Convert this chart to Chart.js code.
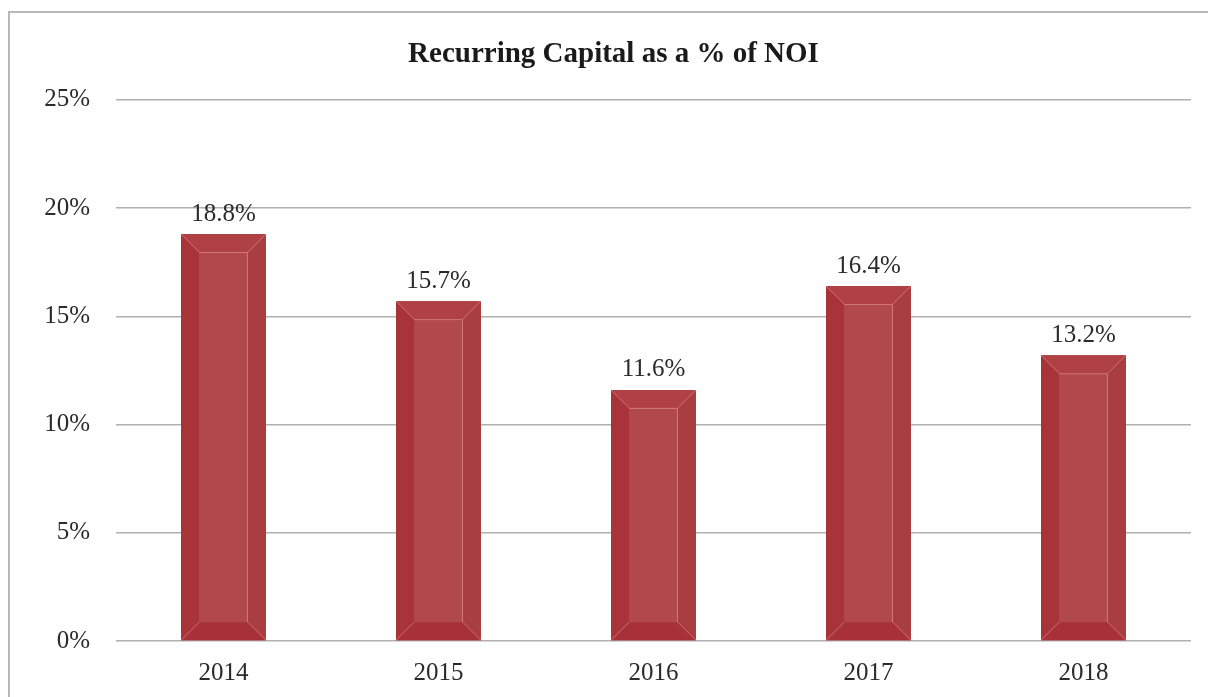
<!DOCTYPE html>
<html>
<head>
<meta charset="utf-8">
<script src="https://cdn.jsdelivr.net/npm/chart.js@4/dist/chart.umd.min.js"></script>
<style>
  html, body { margin: 0; padding: 0; background: #fff; overflow: hidden; }
  #wrap { position: relative; width: 1208px; height: 697px; }
  #frame { position: absolute; left: 8px; top: 11px; width: 1300px; height: 800px; border: 2px solid #b8b8b8; box-sizing: border-box; pointer-events: none; }
  canvas { position: absolute; left: 0; top: 0; }
</style>
</head>
<body>
<div id="wrap">
  <canvas id="c" width="1208" height="697"></canvas>
  <div id="frame"></div>
</div>
<script>
const titleText = "Recurring Capital as a % of NOI";
const categories = ["2014", "2015", "2016", "2017", "2018"];
const values = [18.8, 15.7, 11.6, 16.4, 13.2];
const yTicks = [0, 5, 10, 15, 20, 25];

const FONT = "'Liberation Serif', 'DejaVu Serif', serif";

const bevelPlugin = {
  id: 'bevel',
  afterDatasetsDraw(chart) {
    const ctx = chart.ctx;
    const meta = chart.getDatasetMeta(0);
    meta.data.forEach((bar, i) => {
      const w = bar.width;
      const l = bar.x - w / 2, r = bar.x + w / 2;
      const t = bar.y, b = bar.base;
      const e = Math.min(18, (b - t) / 2);
      const poly = (pts, color) => {
        ctx.beginPath();
        ctx.moveTo(pts[0][0], pts[0][1]);
        for (let k = 1; k < pts.length; k++) ctx.lineTo(pts[k][0], pts[k][1]);
        ctx.closePath();
        ctx.fillStyle = color;
        ctx.fill();
      };
      ctx.save();
      poly([[l, t], [r, t], [r - e, t + e], [l + e, t + e]], '#AF4145');
      poly([[l, t], [l + e, t + e], [l + e, b - e], [l, b]], '#A8343A');
      poly([[r, t], [r, b], [r - e, b - e], [r - e, t + e]], '#A93E41');
      poly([[l, b], [r, b], [r - e, b - e], [l + e, b - e]], '#A73039');
      poly([[l + e, t + e], [r - e, t + e], [r - e, b - e], [l + e, b - e]], '#B1494A');
      ctx.strokeStyle = 'rgba(235,160,160,0.55)';
      ctx.lineWidth = 1;
      ctx.beginPath();
      ctx.moveTo(l, t); ctx.lineTo(l + e, t + e);
      ctx.moveTo(r, t); ctx.lineTo(r - e, t + e);
      ctx.moveTo(l, b); ctx.lineTo(l + e, b - e);
      ctx.moveTo(r, b); ctx.lineTo(r - e, b - e);
      ctx.moveTo(l + e, t + e + 0.5); ctx.lineTo(r - e - 0.5, t + e + 0.5); ctx.lineTo(r - e - 0.5, b - e);
      ctx.stroke();
      // data label
      ctx.fillStyle = '#2b2b2b';
      ctx.font = '25px ' + FONT;
      ctx.textAlign = 'center';
      ctx.textBaseline = 'middle';
      ctx.fillText(values[i].toFixed(1) + '%', bar.x, t - 20);
      ctx.restore();
    });
  }
};

new Chart(document.getElementById('c'), {
  type: 'bar',
  data: {
    labels: categories,
    datasets: [{
      data: values,
      backgroundColor: '#A8343A',
      borderWidth: 0,
      barPercentage: 0.395,
      categoryPercentage: 1.0
    }]
  },
  options: {
    responsive: false,
    animation: false,
    devicePixelRatio: 1,
    layout: { padding: { left: 36, right: 17, top: 0, bottom: 0 } },
    plugins: {
      legend: { display: false },
      tooltip: { enabled: false },
      title: {
        display: true,
        text: titleText,
        color: '#1a1a1a',
        font: { family: FONT, size: 29, weight: 'bold', lineHeight: 1.2 },
        padding: { top: 37, bottom: 28 }
      }
    },
    scales: {
      x: {
        grid: { display: false, drawTicks: false },
        border: { display: false },
        ticks: { color: '#2b2b2b', font: { family: FONT, size: 25 }, padding: 17 },
        afterFit(scale) { scale.height = 56; }
      },
      y: {
        min: 0,
        max: 25,
        afterBuildTicks(scale) { scale.ticks = yTicks.map(v => ({ value: v })); },
        grid: { color: '#b0b0b0', lineWidth: 1.5, drawTicks: false },
        border: { display: false },
        ticks: {
          color: '#2b2b2b',
          font: { family: FONT, size: 25 },
          padding: 26,
          callback: v => v + '%'
        },
        afterFit(scale) { scale.width = 80; }
      }
    }
  },
  plugins: [bevelPlugin]
});
</script>
</body>
</html>
